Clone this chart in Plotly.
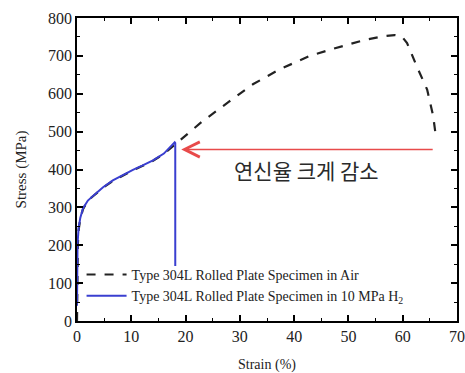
import plotly.graph_objects as go

# Air specimen (dashed black)
air_strain = [0, 0.05, 0.15, 0.3, 0.6, 1.1, 2, 3, 4.8, 6.6, 8.5, 10.3, 12, 14, 16, 18,
              20, 23, 28, 32.4, 37.4, 42.9, 47, 53, 56.5, 58.5, 59.8, 60.8, 62.6, 64.5, 65.6, 66.2]
air_stress = [0, 120, 200, 240, 270, 295, 318, 330, 352, 370, 385, 398, 409, 423, 441, 466,
              490, 526, 579, 625, 665, 700, 718, 742, 752, 755, 752, 734, 672, 611, 542, 478]

# 10 MPa H2 specimen (solid blue)
h2_strain = [0, 0.03, 0.1, 0.3, 0.6, 1.1, 2, 3, 4.8, 6.6, 8.5, 10.3, 12, 14, 16, 18.0, 18.1, 18.1]
h2_stress = [40, 150, 205, 245, 272, 297, 318, 331, 353, 371, 386, 399, 410, 424, 442, 472, 470, 145]

names = ["Type 304L Rolled Plate Specimen in Air",
         "Type 304L Rolled Plate Specimen in 10 MPa H<sub>2</sub>"]

x_ticks = [0, 10, 20, 30, 40, 50, 60, 70]
y_ticks = [0, 100, 200, 300, 400, 500, 600, 700, 800]

serif = "Liberation Serif"

fig = go.Figure()
fig.add_trace(go.Scatter(x=air_strain, y=air_stress, mode="lines", name=names[0],
                         line=dict(color="#222222", width=2.2, dash="dash")))
fig.add_trace(go.Scatter(x=h2_strain, y=h2_stress, mode="lines", name=names[1],
                         line=dict(color="#3a3fd0", width=2)))

fig.add_annotation(x=19.2, y=453, ax=65.8, ay=453, xref="x", yref="y", axref="x", ayref="y",
                   text="", showarrow=True, arrowhead=5, arrowsize=2, arrowwidth=1.5,
                   arrowcolor="#e84a4a")
fig.add_annotation(x=42.2, y=400, xref="x", yref="y", text="연신율 크게 감소", showarrow=False,
                   font=dict(family="Noto Sans CJK KR", size=21, color="#2a2a2a"))

axis_common = dict(showline=True, linecolor="black", linewidth=1.5, mirror="allticks",
                   ticks="inside", ticklen=6, tickwidth=1.5, tickcolor="black",
                   showgrid=False, zeroline=False, automargin=False,
                   tickfont=dict(family=serif, size=16, color="#222222"))

fig.update_xaxes(range=[0, 70], tickvals=x_ticks, ticktext=[str(v) for v in x_ticks],
                 minor=dict(dtick=5, ticks="inside", ticklen=3, tickwidth=1.2, tickcolor="black"),
                 title=dict(text="Strain (%)", font=dict(family=serif, size=14, color="#222222"),
                            standoff=19),
                 **axis_common)
fig.update_yaxes(range=[0, 800], tickvals=y_ticks, ticktext=[str(v) for v in y_ticks],
                 minor=dict(dtick=50, ticks="inside", ticklen=3, tickwidth=1.2, tickcolor="black"),
                 title=dict(text="Stress (MPa)", font=dict(family=serif, size=15, color="#222222"),
                            standoff=18),
                 **axis_common)

fig.update_layout(
    width=465, height=373,
    margin=dict(l=77, r=8, t=18, b=52, autoexpand=False),
    paper_bgcolor="white", plot_bgcolor="white",
    legend=dict(x=0.012, y=0.03, xanchor="left", yanchor="bottom",
                bgcolor="rgba(0,0,0,0)", font=dict(family=serif, size=14, color="#222222"),
                tracegroupgap=0, itemwidth=40),
    showlegend=True,
)

fig.write_html("out.html", config={"displayModeBar": False},
               post_script="document.body.style.margin='0';")
